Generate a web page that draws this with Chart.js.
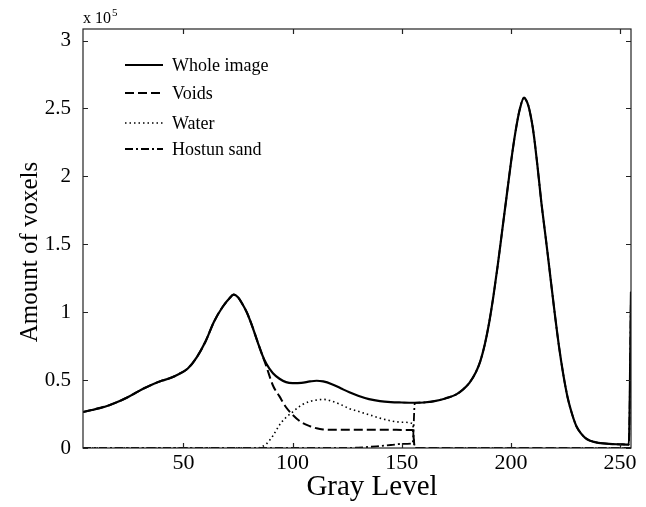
<!DOCTYPE html>
<html><head><meta charset="utf-8">
<script src="https://cdn.jsdelivr.net/npm/chart.js@4.4.1/dist/chart.umd.min.js"></script>
<style>html,body{margin:0;padding:0;background:#fff}#wrap{width:646px;height:507px}</style>
</head><body><div id="wrap"><canvas id="c" width="646" height="507"></canvas></div>
<script>
// Gray-level histogram of the scanned sample, counts in units of 10^5 voxels
const grayLevels = [4,8,12,16,20,24,28,32,36,40,44,48,52,56,60,64,68,71,73,75,77,79,81,84,86,88,91,94,97,100,104,108,111,114,118,122,126,130,135,140,145,150,155,156,160,165,170,175,178,181,184,186,188,190,192,194,196,198,200,202,204,206,207,208,209,210,211,212,213,214,216,218,220,222,224,226,228,230,232,234,236,238,240,245,250,254,255];
const wholeImage = [0.265,0.28,0.295,0.315,0.34,0.37,0.405,0.44,0.47,0.495,0.515,0.545,0.585,0.665,0.78,0.93,1.04,1.10,1.13,1.11,1.06,1.0,0.92,0.78,0.69,0.62,0.55,0.51,0.485,0.478,0.48,0.49,0.495,0.49,0.47,0.44,0.41,0.385,0.36,0.345,0.338,0.335,0.333,0.333,0.335,0.345,0.365,0.395,0.43,0.48,0.56,0.64,0.76,0.92,1.12,1.35,1.6,1.85,2.1,2.32,2.49,2.58,2.56,2.52,2.45,2.36,2.24,2.1,1.95,1.8,1.54,1.27,1.0,0.75,0.54,0.37,0.25,0.16,0.11,0.075,0.055,0.045,0.038,0.03,0.027,0.025,1.15];
const voids = [0.265,0.28,0.295,0.315,0.34,0.37,0.405,0.44,0.47,0.495,0.515,0.545,0.585,0.665,0.78,0.93,1.04,1.10,1.13,1.11,1.06,1.0,0.92,0.78,0.69,0.60,0.46,0.38,0.30,0.245,0.19,0.16,0.145,0.137,0.135,0.135,0.135,0.135,0.135,0.134,0.134,0.133,0.133,0,0,0,0,0,0,0,0,0,0,0,0,0,0,0,0,0,0,0,0,0,0,0,0,0,0,0,0,0,0,0,0,0,0,0,0,0,0,0,0,0,0,0,0];
const water = [0,0,0,0,0,0,0,0,0,0,0,0,0,0,0,0,0,0,0,0,0,0,0,0,0.01,0.03,0.09,0.17,0.225,0.265,0.315,0.343,0.353,0.358,0.345,0.32,0.29,0.27,0.245,0.22,0.2,0.19,0.18,0,0,0,0,0,0,0,0,0,0,0,0,0,0,0,0,0,0,0,0,0,0,0,0,0,0,0,0,0,0,0,0,0,0,0,0,0,0,0,0,0,0,0,0];
const hostunSand = [0,0,0,0,0,0,0,0,0,0,0,0,0,0,0,0,0,0,0,0,0,0,0,0,0,0,0,0,0,0,0,0,0,0,0,0,0,0.003,0.008,0.015,0.022,0.03,0.035,0.333,0.335,0.345,0.365,0.395,0.43,0.48,0.56,0.64,0.76,0.92,1.12,1.35,1.6,1.85,2.1,2.32,2.49,2.58,2.56,2.52,2.45,2.36,2.24,2.1,1.95,1.8,1.54,1.27,1.0,0.75,0.54,0.37,0.25,0.16,0.11,0.075,0.055,0.045,0.038,0.03,0.027,0.025,1.15];
const seriesNames = ['Whole image','Voids','Water','Hostun sand'];
const xTicks = [50,100,150,200,250];
const yTicks = [0,0.5,1,1.5,2,2.5,3];

const SERIF = '"Liberation Serif", "Times New Roman", serif';
const pts = arr => grayLevels.map((g, i) => ({x: g, y: arr[i]}));

const styles = [
  {borderWidth: 2.2, borderDash: []},
  {borderWidth: 2, borderDash: [9, 4]},
  {borderWidth: 1.6, borderDash: [1.5, 3]},
  {borderWidth: 1.8, borderDash: [8, 3, 2, 3]}
];
const seriesData = [wholeImage, voids, water, hostunSand];

// draws the box, inward ticks, legend, exponent and axis titles
const framePlugin = {
  id: 'frame',
  afterDraw(chart) {
    const ctx = chart.ctx, a = chart.chartArea;
    const xs = chart.scales.x, ys = chart.scales.y;
    ctx.save();
    ctx.strokeStyle = '#222';
    ctx.lineWidth = 1.2;
    ctx.setLineDash([]);
    ctx.strokeRect(a.left, a.top, a.right - a.left, a.bottom - a.top);
    const tl = 5;
    ctx.beginPath();
    xTicks.forEach(v => {
      const px = Math.round(xs.getPixelForValue(v)) + 0.5;
      ctx.moveTo(px, a.bottom); ctx.lineTo(px, a.bottom - tl);
      ctx.moveTo(px, a.top); ctx.lineTo(px, a.top + tl);
    });
    yTicks.forEach(v => {
      const py = Math.round(ys.getPixelForValue(v)) + 0.5;
      ctx.moveTo(a.left, py); ctx.lineTo(a.left + tl, py);
      ctx.moveTo(a.right, py); ctx.lineTo(a.right - tl, py);
    });
    ctx.stroke();

    // legend
    const rows = [66, 94, 124, 150];
    ctx.fillStyle = '#000';
    ctx.strokeStyle = '#000';
    ctx.font = '18px ' + SERIF;
    ctx.textBaseline = 'middle';
    ctx.textAlign = 'left';
    seriesNames.forEach((name, i) => {
      const y = rows[i];
      ctx.lineWidth = styles[i].borderWidth;
      ctx.setLineDash(styles[i].borderDash);
      ctx.beginPath();
      ctx.moveTo(125, y - 1); ctx.lineTo(163, y - 1);
      ctx.stroke();
      ctx.fillText(name, 172, y);
    });
    ctx.setLineDash([]);

    // exponent label
    ctx.textBaseline = 'alphabetic';
    ctx.font = '16px ' + SERIF;
    ctx.fillText('x 10', 83, 23);
    const w = ctx.measureText('x 10').width;
    ctx.font = '11px ' + SERIF;
    ctx.fillText('5', 83 + w + 1, 16);

    // axis titles
    ctx.font = '29px ' + SERIF;
    ctx.textAlign = 'center';
    ctx.fillText('Gray Level', 372, 495);
    ctx.font = '25px ' + SERIF;
    ctx.save();
    ctx.translate(37, 252);
    ctx.rotate(-Math.PI / 2);
    ctx.fillText('Amount of voxels', 0, 0);
    ctx.restore();
    ctx.restore();
  }
};

new Chart(document.getElementById('c'), {
  type: 'line',
  data: {
    datasets: seriesData.map((arr, i) => ({
      label: seriesNames[i],
      data: pts(arr),
      borderColor: '#000',
      backgroundColor: '#000',
      borderWidth: styles[i].borderWidth,
      borderDash: styles[i].borderDash,
      pointRadius: 0,
      fill: false,
      cubicInterpolationMode: 'monotone',
      order: 3 - i
    }))
  },
  options: {
    responsive: false,
    devicePixelRatio: 1,
    animation: false,
    layout: {padding: {left: 0, top: 29, right: 15, bottom: 0}},
    plugins: {legend: {display: false}, tooltip: {enabled: false}},
    scales: {
      x: {
        type: 'linear', min: 4, max: 255,
        grid: {display: false, drawTicks: false}, border: {display: false},
        afterBuildTicks: s => { s.ticks = xTicks.map(v => ({value: v})); },
        afterFit: s => { s.height = 59; },
        ticks: {color: '#000', font: {family: SERIF, size: 22}, padding: 2, maxRotation: 0}
      },
      y: {
        type: 'linear', min: 0, max: 3.085,
        grid: {display: false, drawTicks: false}, border: {display: false},
        afterBuildTicks: s => { s.ticks = yTicks.map(v => ({value: v})); },
        afterFit: s => { s.width = 83; },
        ticks: {color: '#000', font: {family: SERIF, size: 21}, padding: 12,
          callback: v => String(v)}
      }
    }
  },
  plugins: [framePlugin]
});
</script>
</body></html>
